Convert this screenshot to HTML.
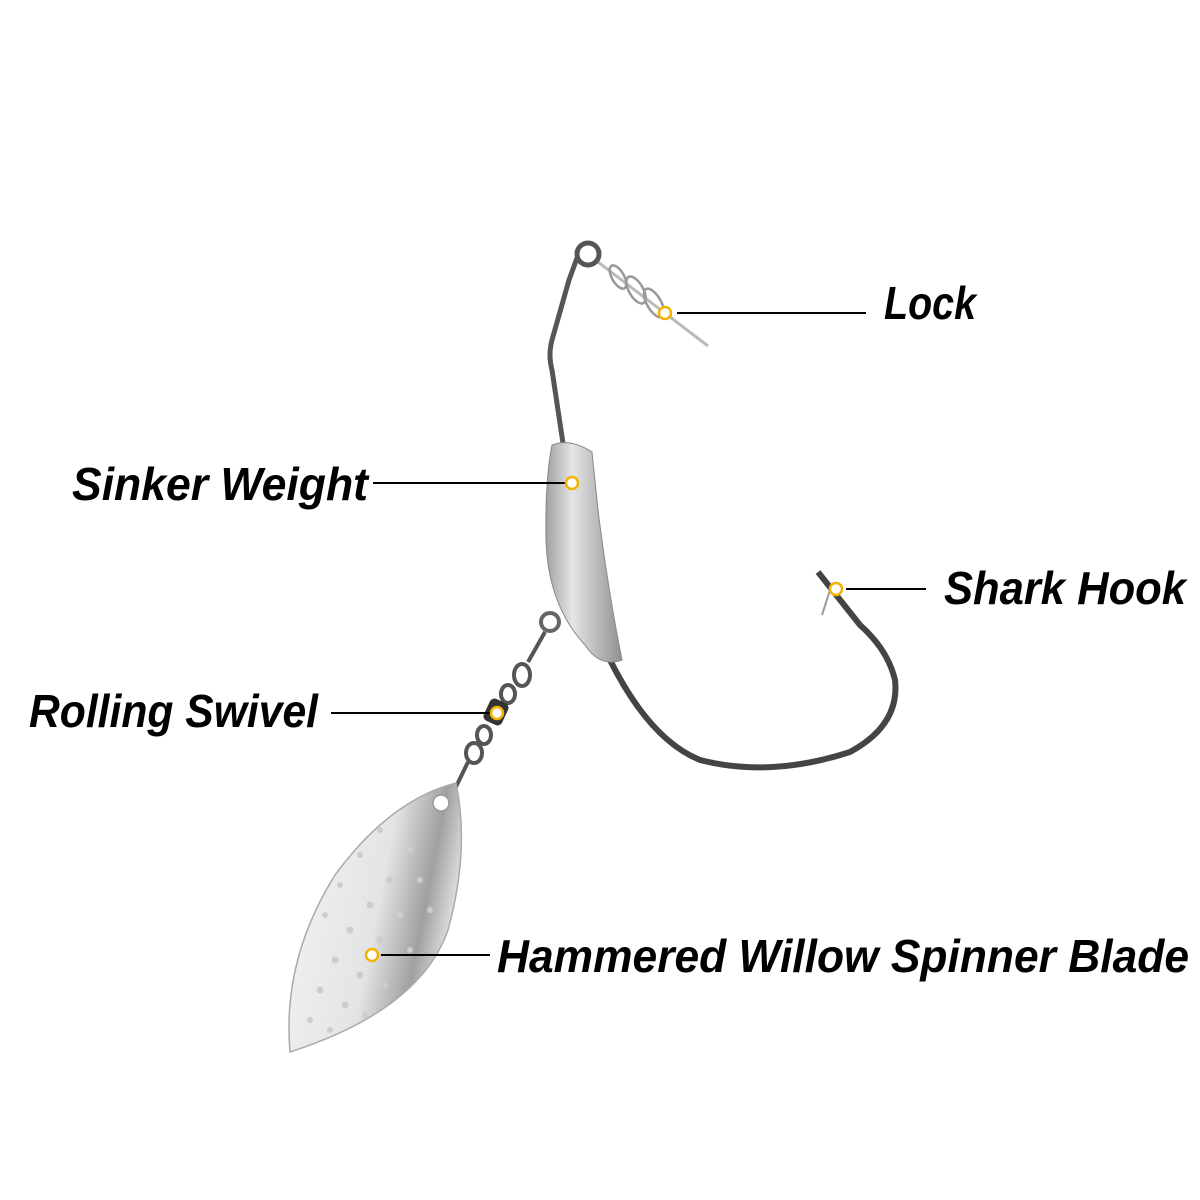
<!DOCTYPE html>
<html><head><meta charset="utf-8"><style>
html,body{margin:0;padding:0;background:#fff;}
svg{display:block;}
text{font-family:"Liberation Sans",Arial,sans-serif;font-weight:bold;font-style:italic;font-size:46px;fill:#000;}
</style></head><body>
<svg width="1200" height="1200" viewBox="0 0 1200 1200" xmlns="http://www.w3.org/2000/svg">
<defs>
<linearGradient id="wt" x1="0" y1="0" x2="1" y2="0">
<stop offset="0" stop-color="#a0a0a0"/><stop offset="0.35" stop-color="#e6e6e6"/><stop offset="0.6" stop-color="#c4c4c4"/><stop offset="1" stop-color="#909090"/>
</linearGradient>
<linearGradient id="bl" x1="0" y1="0" x2="1" y2="0.3">
<stop offset="0" stop-color="#f4f4f4"/><stop offset="0.6" stop-color="#e4e4e4"/><stop offset="0.85" stop-color="#a0a0a0"/><stop offset="1" stop-color="#dcdcdc"/>
</linearGradient>
</defs>
<!-- spring lock -->
<path d="M598 262 L708 346" stroke="#bbb" stroke-width="3" fill="none"/>
<g fill="none" stroke="#999" stroke-width="2.5">
<ellipse cx="618" cy="277" rx="6" ry="13" transform="rotate(-30 618 277)"/>
<ellipse cx="636" cy="290" rx="7" ry="15" transform="rotate(-30 636 290)"/>
<ellipse cx="654" cy="303" rx="7" ry="16" transform="rotate(-30 654 303)"/>
</g>
<!-- eye -->
<circle cx="588" cy="254" r="11" fill="none" stroke="#555" stroke-width="5"/>
<!-- shank -->
<path d="M577 258 L569 280 L552 340 Q548 355 552 370 L564 450" stroke="#555" stroke-width="5" fill="none"/>
<!-- bend -->
<path d="M610 660 Q650 740 700 760 Q770 778 850 752 Q900 725 895 680 Q888 650 860 625 L818 572" stroke="#444" stroke-width="6" fill="none"/>
<path d="M830 590 L822 615" stroke="#999" stroke-width="2"/>
<!-- weight -->
<path d="M552 445 Q570 438 592 452 L598 510 Q608 590 622 660 Q600 668 585 645 Q548 605 546 540 Q545 480 552 445 Z" fill="url(#wt)" stroke="#888" stroke-width="1"/>
<!-- swivel chain -->
<circle cx="550" cy="622" r="9" fill="none" stroke="#666" stroke-width="4"/>
<path d="M545 632 L528 662" stroke="#555" stroke-width="4"/>
<ellipse cx="522" cy="675" rx="8" ry="11" fill="none" stroke="#555" stroke-width="4"/>
<ellipse cx="508" cy="694" rx="7" ry="9" fill="none" stroke="#555" stroke-width="4"/>
<rect x="486" y="700" width="20" height="24" rx="5" fill="#333" transform="rotate(25 496 712)"/>
<ellipse cx="484" cy="735" rx="7" ry="9" fill="none" stroke="#555" stroke-width="4"/>
<ellipse cx="474" cy="753" rx="8" ry="10" fill="none" stroke="#555" stroke-width="4"/>
<path d="M468 762 L452 795" stroke="#555" stroke-width="4"/>
<!-- blade -->
<path d="M456 783 Q470 850 448 930 Q420 1010 290 1052 Q282 960 335 875 Q390 800 456 783 Z" fill="url(#bl)" stroke="#aaa" stroke-width="1.5"/>
<circle cx="441" cy="803" r="8" fill="#fff" stroke="#999" stroke-width="1.5"/>
<g fill="#cdcdcd">
<circle cx="410" cy="850" r="3"/><circle cx="390" cy="880" r="3.5"/><circle cx="370" cy="905" r="3.5"/><circle cx="350" cy="930" r="3.5"/><circle cx="335" cy="960" r="3.5"/><circle cx="320" cy="990" r="3.5"/><circle cx="310" cy="1020" r="3"/>
<circle cx="420" cy="880" r="3"/><circle cx="400" cy="915" r="3.5"/><circle cx="380" cy="940" r="3.5"/><circle cx="360" cy="975" r="3.5"/><circle cx="345" cy="1005" r="3.5"/><circle cx="330" cy="1030" r="3"/>
<circle cx="430" cy="910" r="3"/><circle cx="410" cy="950" r="3"/><circle cx="385" cy="985" r="3"/><circle cx="365" cy="1015" r="3"/>
<circle cx="380" cy="830" r="3"/><circle cx="360" cy="855" r="3"/><circle cx="340" cy="885" r="3"/><circle cx="325" cy="915" r="3"/>
</g>
<!-- leader lines -->
<g stroke="#000" stroke-width="2">
<line x1="677" y1="313" x2="866" y2="313"/>
<line x1="373" y1="483" x2="565" y2="483"/>
<line x1="846" y1="589" x2="926" y2="589"/>
<line x1="331" y1="713" x2="490" y2="713"/>
<line x1="381" y1="955" x2="490" y2="955"/>
</g>
<g fill="#fff" stroke="#f0b400" stroke-width="2.5">
<circle cx="665" cy="313" r="6"/>
<circle cx="572" cy="483" r="6"/>
<circle cx="836" cy="589" r="6"/>
<circle cx="497" cy="713" r="6"/>
<circle cx="372" cy="955" r="6"/>
</g>
<!-- labels -->
<text x="884" y="319" textLength="92" lengthAdjust="spacingAndGlyphs">Lock</text>
<text x="72" y="500" textLength="296" lengthAdjust="spacingAndGlyphs">Sinker Weight</text>
<text x="944" y="604" textLength="242" lengthAdjust="spacingAndGlyphs">Shark Hook</text>
<text x="29" y="727" textLength="289" lengthAdjust="spacingAndGlyphs">Rolling Swivel</text>
<text x="497" y="972" textLength="692" lengthAdjust="spacingAndGlyphs">Hammered Willow Spinner Blade</text>
</svg>
</body></html>
